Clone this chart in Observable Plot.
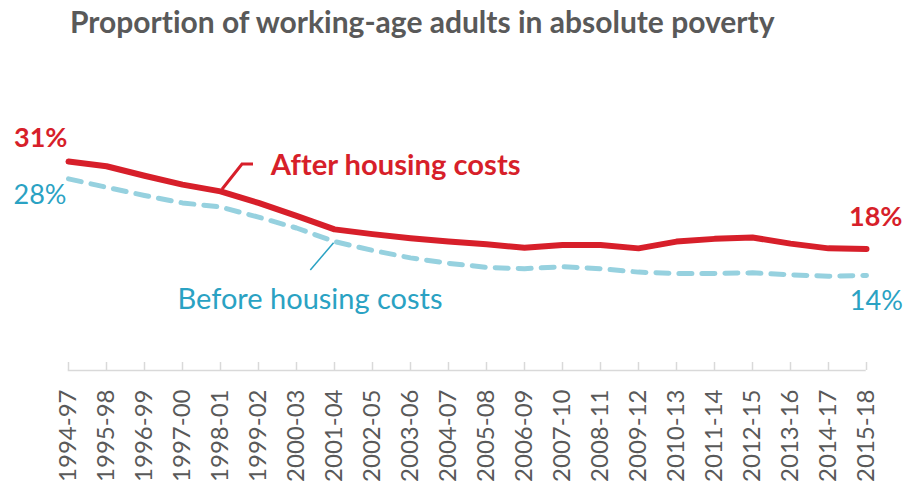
<!DOCTYPE html>
<html><head><meta charset="utf-8">
<script src="https://cdn.jsdelivr.net/npm/d3@7"></script>
<script src="https://cdn.jsdelivr.net/npm/@observablehq/plot@0.6"></script>
<style>
body{margin:0;background:#fff;width:905px;height:486px;overflow:hidden;font-family:Lato,sans-serif;position:relative;font-variant-ligatures:none}
#title{position:absolute;left:70px;top:6.4px;font-weight:bold;font-size:30px;line-height:30px;font-family:Lato,sans-serif;color:#595959;white-space:nowrap;font-variant-ligatures:none}
#chart{position:absolute;left:0;top:50px}
svg text{font-variant-ligatures:none}
</style></head><body>
<div id="title">Proportion of working-age adults in absolute poverty</div>
<div id="chart"></div>
<script>
const years = ["1994-97","1995-98","1996-99","1997-00","1998-01","1999-02","2000-03","2001-04","2002-05","2003-06","2004-07","2005-08","2006-09","2007-10","2008-11","2009-12","2010-13","2011-14","2012-15","2013-16","2014-17","2015-18"];
const afterHC = [30.8,30.1,28.7,27.4,26.4,24.7,22.8,20.8,20.1,19.5,19.0,18.6,18.1,18.5,18.5,18.0,19.0,19.4,19.6,18.7,18.0,17.9];
const beforeHC = [28.25,27.0,25.8,24.7,24.1,22.6,21.0,19.0,17.7,16.6,15.8,15.2,15.0,15.3,15.0,14.5,14.3,14.3,14.4,14.1,13.9,14.0];
const seriesNames = ["After housing costs","Before housing costs"];

const RED = "#d71f2a", BLUE_LINE = "#96d1df", BLUE_TEXT = "#2aa2c3", GREY = "#595959", AXIS = "#d9d9d9";
const rows = years.map((y, i) => ({year: y, after: afterHC[i], before: beforeHC[i]}));
const first = rows[0], last = rows[rows.length - 1];
const afterAnchor = rows[years.indexOf("1998-01")];
const beforeAnchor = rows[years.indexOf("2001-04")];
const pct = v => d3.format(".0f")(v) + "%";

const plot = Plot.plot({
  width: 905, height: 436,
  marginLeft: 67.7, marginRight: 39.3, marginTop: 48.6, marginBottom: 116,
  x: {type: "point", domain: years, padding: 0},
  y: {domain: [0, 40], axis: null},
  style: {fontFamily: "Lato, sans-serif", background: "white", overflow: "visible"},
  marks: [
    Plot.ruleY([0], {stroke: AXIS, strokeWidth: 1.5}),
    Plot.ruleX(years, {x: d => d, y1: 0, y2: 0, insetTop: -8, stroke: AXIS, strokeWidth: 1.5}),
    Plot.axisX({tickSize: 0, tickRotate: -90, tickPadding: 19, fontSize: 24, fill: GREY, label: null}),
    Plot.line(rows, {x: "year", y: "before", stroke: BLUE_LINE, strokeWidth: 5, strokeDasharray: "13,10", strokeLinecap: "round"}),
    Plot.line(rows, {x: "year", y: "after", stroke: RED, strokeWidth: 6}),
    Plot.text([first], {x: "year", y: "after", text: d => pct(d.after), textAnchor: "end", lineAnchor: "bottom", dx: -1, dy: -14.3, fill: RED, fontWeight: "bold", fontSize: 27}),
    Plot.text([first], {x: "year", y: "before", text: d => pct(d.before), textAnchor: "end", lineAnchor: "bottom", dx: -2, dy: 25, fill: BLUE_TEXT, fontSize: 27}),
    Plot.text([last], {x: "year", y: "after", text: d => pct(d.after), textAnchor: "end", lineAnchor: "bottom", dx: 36, dy: -23.5, fill: RED, fontWeight: "bold", fontSize: 27}),
    Plot.text([last], {x: "year", y: "before", text: d => pct(d.before), textAnchor: "end", lineAnchor: "bottom", dx: 36.3, dy: 34, fill: BLUE_TEXT, fontSize: 27}),
    Plot.text([afterAnchor], {x: "year", y: "after", text: () => seriesNames[0], textAnchor: "start", lineAnchor: "bottom", dx: 50.3, dy: -15.9, fill: RED, fontWeight: "bold", fontSize: 29.2}),
    Plot.text([beforeAnchor], {x: "year", y: "before", text: () => seriesNames[1], textAnchor: "start", lineAnchor: "bottom", dx: -157, dy: 67, fill: BLUE_TEXT, fontSize: 29})
  ]
});
document.getElementById("chart").appendChild(plot);

// leader lines, positioned through the plot's own scales
const sx = plot.scale("x"), sy = plot.scale("y");
const svg = d3.select(plot);
const ax = sx.apply(afterAnchor.year), ay = sy.apply(afterAnchor.after);
svg.append("path")
  .attr("d", `M${ax + 2},${ay - 1.6}L${ax + 22},${ay - 26.9}L${ax + 33},${ay - 26.9}`)
  .attr("fill", "none").attr("stroke", RED).attr("stroke-width", 3);
const bx = sx.apply(beforeAnchor.year), by = sy.apply(beforeAnchor.before);
svg.append("path")
  .attr("d", `M${bx - 0.4},${by + 1.6}L${bx - 23.7},${by + 28.9}`)
  .attr("fill", "none").attr("stroke", BLUE_TEXT).attr("stroke-width", 1.5);
</script>
</body></html>
